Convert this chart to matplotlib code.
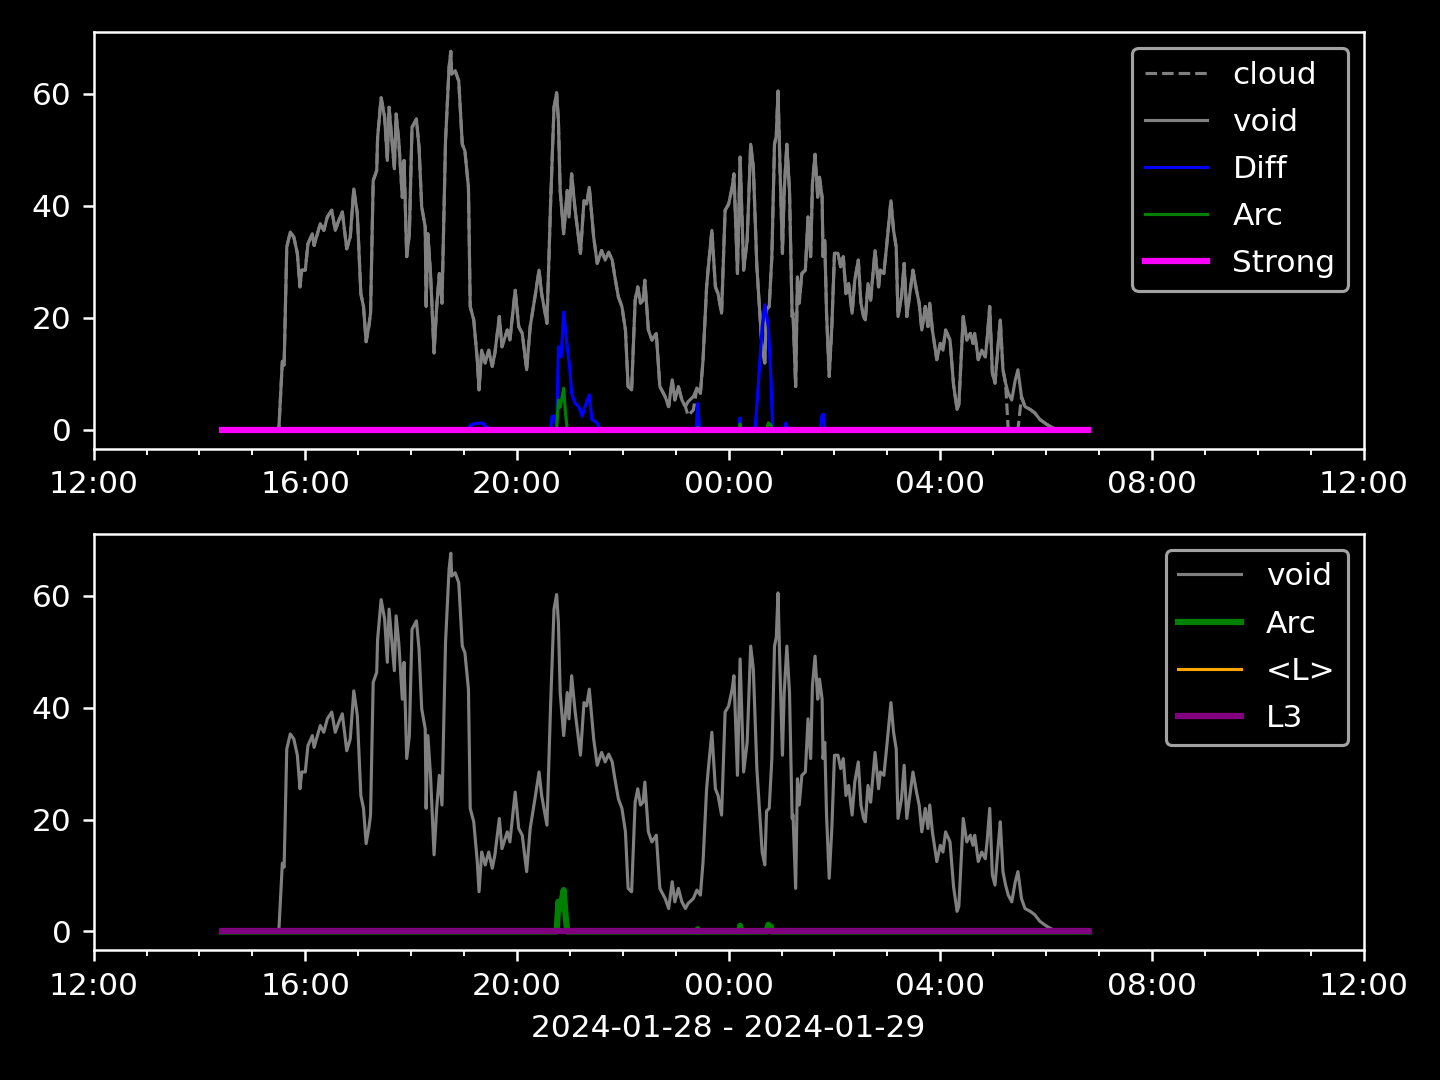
import matplotlib
matplotlib.use("Agg")
import matplotlib.pyplot as plt
import matplotlib.dates as mdates
import numpy as np
import pandas as pd

# Début de la fenêtre (minutes comptées depuis 12:00)
t0 = pd.Timestamp("2024-01-28 12:00")

# Série "void" : minutes depuis 12:00 et valeurs
void_min = [146, 210, 214, 216, 219, 223, 227, 231, 234, 236,
            240, 243, 248, 250, 257, 261, 265, 270, 274, 278,
            282, 287, 291, 295, 299, 303, 306, 309, 312, 314,
            317, 321, 322, 326, 330, 333, 335, 338, 341, 343,
            346, 350, 352, 355, 358, 361, 366, 369, 372, 376,
            377, 379, 382, 386, 389, 392, 395, 399, 403, 405,
            406, 410, 414, 418, 421, 425, 427, 431, 435, 437,
            440, 444, 448, 452, 455, 460, 463, 469, 472, 478,
            482, 486, 491, 495, 501, 505, 508, 514, 518, 522,
            525, 527, 529, 533, 537, 539, 542, 546, 552, 556,
            559, 562, 567, 571, 576, 580, 584, 588, 591, 595,
            599, 603, 606, 610, 614, 617, 620, 623, 625, 629,
            633, 638, 642, 648, 652, 656, 659, 663, 667, 671,
            674, 680, 684, 688, 691, 695, 697, 701, 705, 708,
            712, 716, 720, 724, 726, 730, 733, 737, 741, 745,
            748, 752, 758, 761, 763, 766, 769, 772, 774, 776,
            778, 781, 783, 786, 789, 792, 793, 796, 798, 800,
            803, 807, 810, 813, 815, 818, 821, 823, 826, 827,
            829, 831, 834, 837, 840, 844, 847, 850, 853, 856,
            860, 863, 867, 870, 873, 875, 878, 881, 886, 890,
            892, 896, 899, 904, 907, 910, 912, 916, 919, 922,
            926, 929, 933, 936, 939, 943, 946, 948, 951, 956,
            960, 963, 966, 971, 975, 979, 981, 986, 990, 994,
            997, 999, 1003, 1007, 1011, 1013, 1016, 1019, 1022, 1026,
            1028, 1031, 1034, 1037, 1041, 1045, 1048, 1052, 1056, 1062,
            1067, 1073, 1081, 1088, 1093, 1128]
void_val = [0, 0, 12.2, 11.5, 32.6, 35.3, 34.4, 31.5, 25.5, 28.5,
            28.5, 33.2, 35, 32.9, 36.8, 35.6, 38, 39.2, 35.6, 37.4,
            38.9, 32.3, 34.4, 43, 38.6, 24.3, 22, 15.7, 18.4, 20.8,
            44.5, 46.3, 52.2, 59.3, 55.8, 48.1, 57.6, 52.2, 46.6, 56.4,
            51.6, 41.5, 48.1, 30.9, 35, 54, 55.5, 50.4, 39.8, 36.2,
            22, 35, 27.9, 13.7, 22, 27.9, 22.6, 51.6, 64.7, 67.6,
            63.5, 64.1, 62.3, 51, 49.8, 43.3, 22, 19.6, 12.5, 7.1,
            14.2, 11.9, 14.2, 11.3, 13.7, 20.2, 14.8, 17.8, 16, 24.9,
            18.4, 17.2, 10.7, 18.4, 24.3, 28.5, 24.3, 19, 39.8, 57.6,
            60.2, 55.2, 42.7, 35, 42.7, 38, 45.7, 39.2, 31.5, 40.9,
            40.3, 43.3, 34.4, 29.7, 32, 30.3, 31.7, 30.3, 27.3, 23.7,
            22, 17.8, 7.7, 7.1, 23.1, 25.5, 22.6, 23.1, 26.7, 17.8,
            16, 17.2, 7.7, 5.9, 4.1, 8.9, 5.3, 7.7, 5.3, 4.1,
            5.0, 5.9, 7.4, 6.5, 12.5, 25.5, 29.1, 35.6, 25.5, 24.3,
            20.8, 39.2, 40.3, 43.3, 45.7, 27.9, 48.7, 28.5, 33.8, 51,
            46.9, 29.1, 14.2, 11.9, 21.5, 22, 30.9, 51, 52.5, 60.5,
            48.1, 31.5, 42.7, 51, 42.7, 20.2, 20.8, 7.7, 27.3, 22.6,
            27.9, 28.5, 38, 30.9, 43.9, 49.2, 41.5, 45.1, 41.5, 30.9,
            33.8, 20.8, 9.5, 18.4, 31.5, 31.5, 29.1, 30.9, 24.3, 26.1,
            20.8, 26.7, 30.3, 22.6, 20.2, 19.6, 26.1, 23.1, 32, 25.5,
            28.5, 27.9, 32.6, 40.9, 35.6, 32.6, 20.2, 23.7, 29.7, 20.2,
            24.9, 28.5, 24.9, 22.6, 17.8, 22, 18.4, 22.6, 17.8, 12.5,
            15.4, 14.2, 17.8, 16, 8, 3.6, 4.5, 20.2, 16, 17.2,
            15.4, 17.2, 12.5, 14.2, 13, 16, 22, 10.1, 8.3, 16,
            19.6, 10.7, 8.3, 6.5, 5.3, 8.9, 10.7, 5.9, 4.1, 3.6,
            3.0, 1.8, 0.9, 0.3, 0, 0]

# "cloud" suit "void" sauf à quelques endroits (valeurs lues)
cloud_fix_min = [674, 680, 1037, 1041, 1045, 1048]
cloud_fix_val = [2.5, 3.5, 0, 0, 0, 0]

# Série "Diff"
diff_min = [146, 425, 427, 433, 441, 445, 450,
            518, 520, 523, 525, 527, 530, 533, 537, 540, 542,
            546, 550, 554, 557, 562, 565, 571, 574,
            683, 685, 687, 732, 733, 734,
            750, 754, 758, 761, 765, 768, 770,
            784, 785, 787, 824, 826, 828, 829, 1128]
diff_val = [0, 0, 0.8, 1.1, 1.2, 0.5, 0,
            0, 2.4, 2.4, 0.5, 14.8, 13, 21, 14.8, 10.7, 6.5,
            4.7, 4.1, 2.4, 4.1, 6.2, 1.8, 1.2, 0,
            0, 4.7, 0, 0, 2.1, 0,
            0, 8.9, 18.4, 22.3, 18.4, 8.9, 0,
            0, 1.2, 0, 0, 2.7, 2.7, 0, 0]

# Série "Arc"
arc_min = [146, 525, 527, 529, 533, 535, 537, 684, 685, 686,
           732, 733, 734, 763, 765, 768, 769, 1128]
arc_val = [0, 0, 5.3, 4.0, 7.4, 3.0, 0, 0, 0.4, 0,
           0, 1.0, 0, 0, 1.2, 0.8, 0, 0]

# Séries nulles : Strong, <L>, L3
flat_min = [146, 1128]
flat_val = [0, 0]


def to_time(minutes):
    return t0 + pd.to_timedelta(np.array(minutes), unit="min")


t_void = to_time(void_min)
cloud_val = np.array(void_val, dtype=float)
for m, v in zip(cloud_fix_min, cloud_fix_val):
    cloud_val[np.array(void_min) == m] = v

plt.style.use("dark_background")
fig, (ax1, ax2) = plt.subplots(2, 1, figsize=(6.4, 4.8), dpi=225)
fig.subplots_adjust(left=0.065, right=0.947, top=0.970, bottom=0.120, hspace=0.206)

# Graphique du haut
ax1.plot(t_void, cloud_val, color="gray", linestyle="--", lw=1, label="cloud")
ax1.plot(t_void, void_val, color="gray", lw=1, label="void")
ax1.plot(to_time(diff_min), diff_val, color="blue", lw=1, label="Diff")
ax1.plot(to_time(arc_min), arc_val, color="green", lw=1, label="Arc")
ax1.plot(to_time(flat_min), flat_val, color="magenta", lw=2, label="Strong")
ax1.legend(loc="upper right", labelspacing=0.58)

# Graphique du bas
ax2.plot(t_void, void_val, color="gray", lw=1, label="void")
ax2.plot(to_time(arc_min), arc_val, color="green", lw=2, label="Arc")
ax2.plot(to_time(flat_min), flat_val, color="orange", lw=1, label="<L>")
ax2.plot(to_time(flat_min), flat_val, color="purple", lw=2, label="L3")
ax2.legend(loc="upper right", labelspacing=0.58)

for ax in (ax1, ax2):
    ax.set_xlim(t0, t0 + pd.Timedelta(hours=24))
    ax.xaxis.set_major_locator(mdates.HourLocator(byhour=range(0, 24, 4)))
    ax.xaxis.set_minor_locator(mdates.HourLocator())
    ax.xaxis.set_major_formatter(mdates.DateFormatter("%H:%M"))
    ax.set_yticks([0, 20, 40, 60])

ax2.set_xlabel("2024-01-28 - 2024-01-29")

fig.savefig("out.png", dpi=225)
